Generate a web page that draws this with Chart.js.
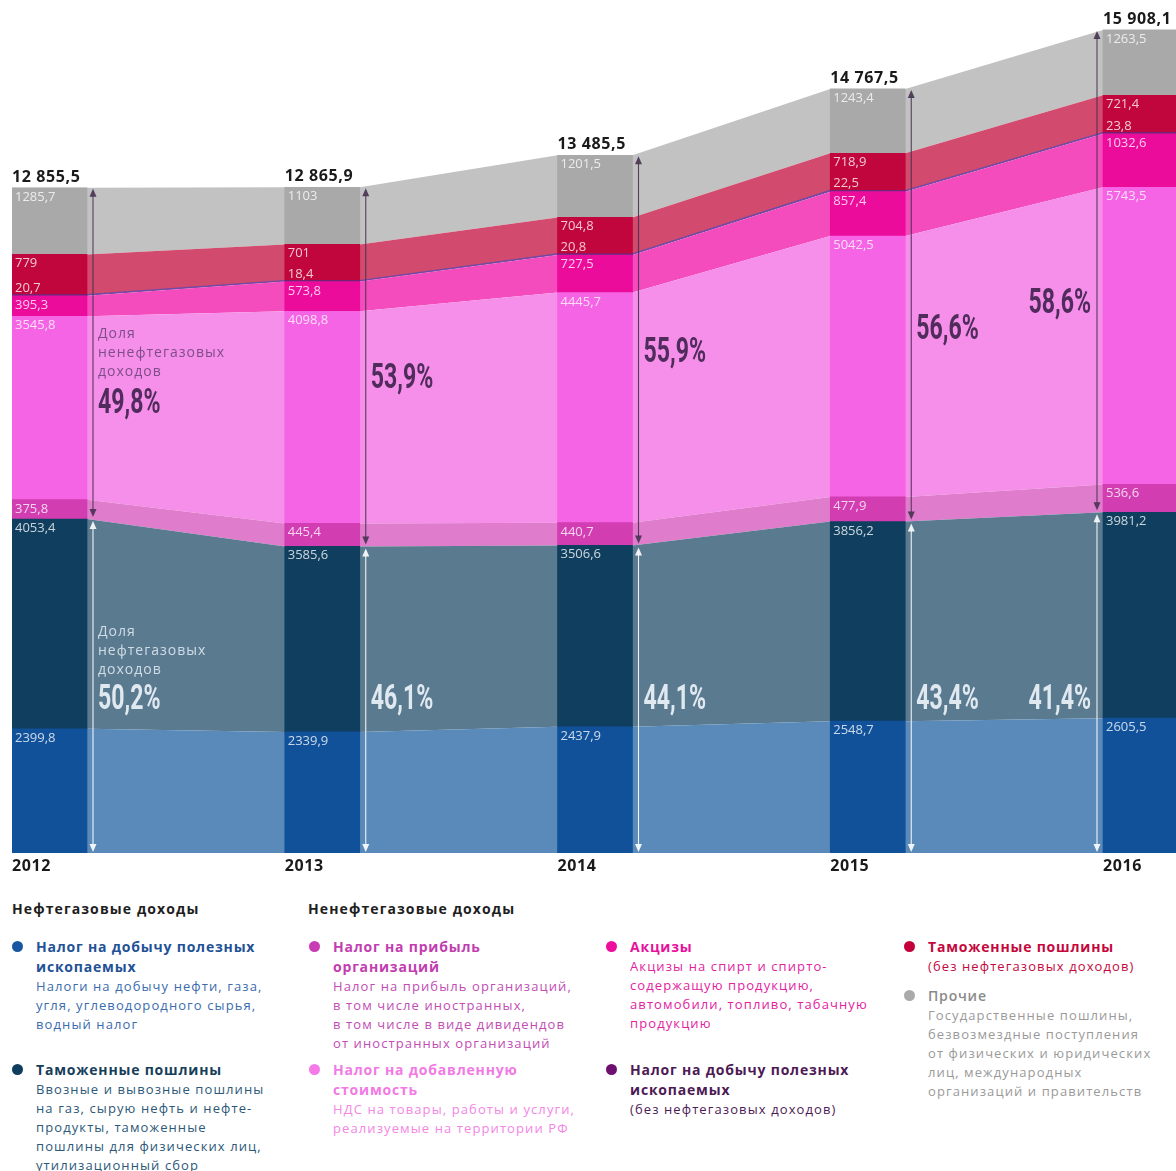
<!DOCTYPE html>
<html lang="ru">
<head>
<meta charset="utf-8">
<title>Доходы федерального бюджета 2012–2016</title>
<script src="https://cdn.jsdelivr.net/npm/chart.js@4.4.1/dist/chart.umd.min.js"></script>
<style>
    html, body { margin: 0; padding: 0; background: #fff; }
    body { width: 1176px; height: 1171px; position: relative; overflow: hidden; font-family: "Open Sans", sans-serif; }
    #chartBox { position: absolute; left: 0; top: 0; width: 1176px; height: 885px; }
    .legend-head { position: absolute; font-weight: 700; font-size: 14px; line-height: 20px; letter-spacing: 1.1px; color: #1e1e1e; }
    .item { position: absolute; font-size: 13px; line-height: 19px; letter-spacing: 1.1px; white-space: nowrap; }
    .item .dot { position: absolute; left: -24px; top: 4px; width: 11px; height: 11px; border-radius: 50%; }
    .item b { font-weight: 700; font-size: 14px; letter-spacing: 0.8px; }
</style>
</head>
<body>
<div id="chartBox"><canvas id="revenueChart" width="1176" height="885"></canvas></div>

<div class="legend-head" style="left:12px;top:899px">Нефтегазовые доходы</div>
<div class="legend-head" style="left:308px;top:899px">Ненефтегазовые доходы</div>

<div class="item" style="left:36px;top:937px;color:#3a6cae">
    <span class="dot" style="background:#1a57a3"></span>
    <b style="color:#1f5296">Налог на добычу полезных<br>ископаемых</b><br>
    Налоги на добычу нефти, газа,<br>угля, углеводородного сырья,<br>водный налог
</div>
<div class="item" style="left:36px;top:1060px;color:#2d5878">
    <span class="dot" style="background:#0f3d5e"></span>
    <b style="color:#163e5a">Таможенные пошлины</b><br>
    Ввозные и вывозные пошлины<br>на газ, сырую нефть и нефте-<br>продукты, таможенные<br>пошлины для физических лиц,<br>утилизационный сбор
</div>

<div class="item" style="left:333px;top:937px;color:#c24db4">
    <span class="dot" style="background:#c83cb4"></span>
    <b style="color:#c23db0">Налог на прибыль<br>организаций</b><br>
    Налог на прибыль организаций,<br>в том числе иностранных,<br>в том числе в виде дивидендов<br>от иностранных организаций
</div>
<div class="item" style="left:333px;top:1060px;color:#f386e6">
    <span class="dot" style="background:#f57ae8"></span>
    <b style="color:#f27ae4">Налог на добавленную<br>стоимость</b><br>
    НДС на товары, работы и услуги,<br>реализуемые на территории РФ
</div>

<div class="item" style="left:630px;top:937px;color:#e2239f">
    <span class="dot" style="background:#ee0e9e"></span>
    <b style="color:#e8129c">Акцизы</b><br>
    Акцизы на спирт и спирто-<br>содержащую продукцию,<br>автомобили, топливо, табачную<br>продукцию
</div>
<div class="item" style="left:630px;top:1060px;color:#4d1a55">
    <span class="dot" style="background:#6d1070"></span>
    <b style="color:#4d1a55">Налог на добычу полезных<br>ископаемых</b><br>
    (без нефтегазовых доходов)
</div>

<div class="item" style="left:928px;top:937px;color:#c4083e">
    <span class="dot" style="background:#c4003c"></span>
    <b style="color:#c4083e">Таможенные пошлины</b><br>
    (без нефтегазовых доходов)
</div>
<div class="item" style="left:928px;top:986px;color:#9a9a9a">
    <span class="dot" style="background:#aaaaaa"></span>
    <b style="color:#8a8a8a;font-weight:600">Прочие</b><br>
    Государственные пошлины,<br>безвозмездные поступления<br>от физических и юридических<br>лиц, международных<br>организаций и правительств
</div>

<script>
// Data, bn rub
const YEARS = [2012, 2013, 2014, 2015, 2016];
const NDPI_OIL = [2399.8, 2339.9, 2437.9, 2548.7, 2605.5];
const CUSTOMS_OIL = [4053.4, 3585.6, 3506.6, 3856.2, 3981.2];
const PROFIT_TAX = [375.8, 445.4, 440.7, 477.9, 536.6];
const VAT = [3545.8, 4098.8, 4445.7, 5042.5, 5743.5];
const EXCISE = [395.3, 573.8, 727.5, 857.4, 1032.6];
const NDPI_OTHER = [20.7, 18.4, 20.8, 22.5, 23.8];
const CUSTOMS_OTHER = [779, 701, 704.8, 718.9, 721.4];
const OTHER = [1285.7, 1103, 1201.5, 1243.4, 1263.5];

// Layout
const BAR_PX = 75;
const YEAR_PX = 272.75;
const BAR_HALF = BAR_PX / 2 / YEAR_PX; // in years
const X_MIN = YEARS[0] - BAR_HALF;
const X_MAX = X_MIN + 1164 / YEAR_PX;
const Y_MAX = 16100;
const NONOIL_PCT_Y = [404, 379, 353, 330, 304];
const OIL_PCT_Y = 700;

// Stack from bottom to top
const SERIES = [
    { values: NDPI_OIL, bar: '#11519a', area: '#5a8ab9' },
    { values: CUSTOMS_OIL, bar: '#0f3e5e', area: '#5a7a90' },
    { values: PROFIT_TAX, bar: '#d23db2', area: '#e07ccc' },
    { values: VAT, bar: '#f564e4', area: '#f68fe9' },
    { values: EXCISE, bar: '#ec0c9c', area: '#f44cbc' },
    { values: NDPI_OTHER, bar: '#5e2c84', area: '#7048a4', thin: true },
    { values: CUSTOMS_OTHER, bar: '#c0063c', area: '#d24a6e' },
    { values: OTHER, bar: '#a9a9a9', area: '#c2c2c2' }
];

function fmt(v) {
    return String(v).replace('.', ',');
}

function fmtTotal(v) {
    const [int, dec] = v.toFixed(1).split('.');
    return int.replace(/\B(?=(\d{3})+(?!\d))/g, ' ') + ',' + dec;
}

function fmtPct(v) {
    return (v * 100).toFixed(1).replace('.', ',') + '%';
}

// area between bars: flat across each bar, straight between bar edges
function edgePoints(values) {
    const pts = [];
    YEARS.forEach((yr, i) => {
        pts.push({ x: yr - BAR_HALF, y: values[i] });
        pts.push({ x: yr + BAR_HALF, y: values[i] });
    });
    return pts;
}

const areaSets = SERIES.map((s, k) => ({
    type: 'line',
    order: 1,
    data: edgePoints(s.values),
    backgroundColor: s.area,
    borderColor: s.thin ? s.area : 'transparent',
    borderWidth: s.thin ? 1.2 : 0,
    pointRadius: 0,
    tension: 0,
    fill: k === 0 ? 'origin' : '-1'
}));

const barSets = SERIES.map(s => ({
    type: 'bar',
    order: 0,
    grouped: false,
    barThickness: BAR_PX,
    data: YEARS.map((yr, i) => ({ x: yr, y: s.values[i] })),
    backgroundColor: s.bar,
    borderWidth: 0
}));

function drawArrow(ctx, x, y1, y2, color) {
    const h = 8, w = 3.5;
    ctx.save();
    ctx.strokeStyle = color;
    ctx.fillStyle = color;
    ctx.lineWidth = 1.1;
    ctx.beginPath();
    ctx.moveTo(x, y1 + h - 1);
    ctx.lineTo(x, y2 - h + 1);
    ctx.stroke();
    ctx.beginPath();
    ctx.moveTo(x, y1);
    ctx.lineTo(x - w, y1 + h);
    ctx.lineTo(x + w, y1 + h);
    ctx.closePath();
    ctx.fill();
    ctx.beginPath();
    ctx.moveTo(x, y2);
    ctx.lineTo(x - w, y2 - h);
    ctx.lineTo(x + w, y2 - h);
    ctx.closePath();
    ctx.fill();
    ctx.restore();
}

function drawCondensed(ctx, text, x, y, align, color) {
    ctx.save();
    ctx.translate(x, y);
    ctx.scale(0.66, 1);
    ctx.font = 'bold 35px Roboto';
    ctx.textAlign = align;
    ctx.textBaseline = 'middle';
    ctx.fillStyle = color;
    ctx.fillText(text, 0, 0);
    ctx.restore();
}

function drawCaption(ctx, lines, x, yFirst, color) {
    ctx.save();
    ctx.font = '14px "Open Sans"';
    ctx.letterSpacing = '1px';
    ctx.fillStyle = color;
    ctx.textAlign = 'left';
    ctx.textBaseline = 'middle';
    lines.forEach((t, j) => ctx.fillText(t, x, yFirst + j * 19));
    ctx.restore();
}

const annotationPlugin = {
    id: 'annotations',
    afterDatasetsDraw(chart) {
        const ctx = chart.ctx;
        const area = chart.chartArea;
        const barOffset = areaSets.length;

        // value labels inside the bars
        ctx.save();
        ctx.font = '13px "Open Sans"';
        ctx.textAlign = 'left';
        ctx.textBaseline = 'alphabetic';
        ctx.fillStyle = 'rgba(255,255,255,0.78)';
        SERIES.forEach((s, k) => {
            const meta = chart.getDatasetMeta(barOffset + k);
            meta.data.forEach((el, i) => {
                const left = el.x - BAR_PX / 2;
                const y = s.thin ? el.y - 3 : el.y + 13;
                ctx.fillText(fmt(s.values[i]), left + 3, y);
            });
        });
        ctx.restore();

        const topMeta = chart.getDatasetMeta(barOffset + SERIES.length - 1);
        const oilMeta = chart.getDatasetMeta(barOffset + 1);

        YEARS.forEach((yr, i) => {
            const total = SERIES.reduce((acc, s) => acc + s.values[i], 0);
            const oil = NDPI_OIL[i] + CUSTOMS_OIL[i];
            const topEl = topMeta.data[i];
            const oilEl = oilMeta.data[i];
            const left = topEl.x - BAR_PX / 2;
            const right = topEl.x + BAR_PX / 2;
            const last = i === YEARS.length - 1;

            // total above the bar, year below the axis
            ctx.save();
            ctx.font = 'bold 16px "Open Sans"';
            ctx.letterSpacing = '0.6px';
            ctx.fillStyle = '#1a1a1a';
            ctx.textAlign = 'left';
            ctx.textBaseline = 'alphabetic';
            ctx.fillText(fmtTotal(total), left, topEl.y - 6);
            ctx.fillText(String(yr), left, area.bottom + 18);
            ctx.restore();

            // share arrows
            const ax = last ? left - 6 : right + 6;
            drawArrow(ctx, ax, topEl.y + 1, oilEl.y - 2, 'rgba(70,50,80,0.9)');
            drawArrow(ctx, ax, oilEl.y + 2, area.bottom - 1, 'rgba(255,255,255,0.9)');

            // share values
            const px = last ? left - 12 : right + 11;
            const align = last ? 'right' : 'left';
            drawCondensed(ctx, fmtPct(1 - oil / total), px, NONOIL_PCT_Y[i], align, '#4f2c5c');
            drawCondensed(ctx, fmtPct(oil / total), px, OIL_PCT_Y, align, 'rgba(232,238,245,0.95)');

            if (i === 0) {
                drawCaption(ctx, ['Доля', 'ненефтегазовых', 'доходов'], px, 334, '#7d4d8a');
                drawCaption(ctx, ['Доля', 'нефтегазовых', 'доходов'], px, 632, 'rgba(222,230,238,0.9)');
            }
        });
    }
};

const ctx = document.getElementById('revenueChart').getContext('2d');
new Chart(ctx, {
    type: 'bar',
    data: { datasets: [...areaSets, ...barSets] },
    options: {
        responsive: false,
        animation: false,
        layout: { padding: { left: 12, right: 0, top: 20, bottom: 32 } },
        plugins: {
            legend: { display: false },
            tooltip: { enabled: false }
        },
        scales: {
            x: { type: 'linear', display: false, offset: false, min: X_MIN, max: X_MAX },
            y: { display: false, stacked: true, min: 0, max: Y_MAX }
        }
    },
    plugins: [annotationPlugin]
});
</script>
</body>
</html>
